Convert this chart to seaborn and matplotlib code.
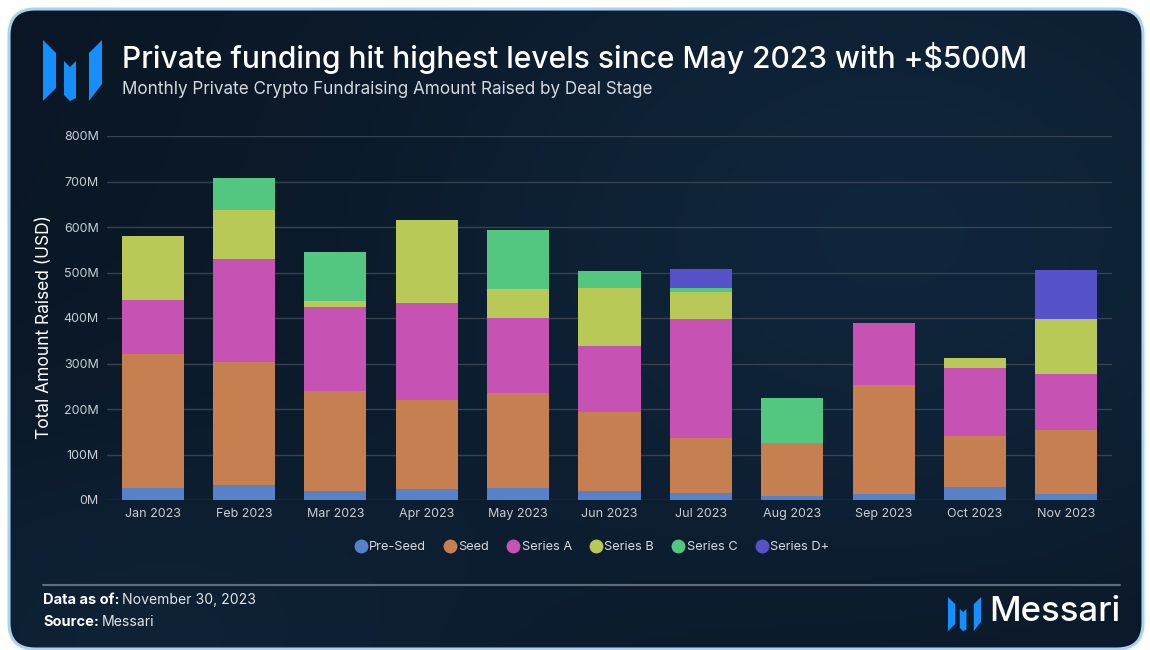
import numpy as np
import pandas as pd
import seaborn as sns
import matplotlib.pyplot as plt
from matplotlib.patches import FancyBboxPatch, Polygon
from matplotlib.lines import Line2D

months = ['Jan 2023', 'Feb 2023', 'Mar 2023', 'Apr 2023', 'May 2023', 'Jun 2023',
          'Jul 2023', 'Aug 2023', 'Sep 2023', 'Oct 2023', 'Nov 2023']
stages = ['Pre-Seed', 'Seed', 'Series A', 'Series B', 'Series C', 'Series D+']

# values in millions USD
pre_seed = [26, 34, 19, 24, 26, 19, 15, 8, 14, 28, 14]
seed = [294, 269, 221, 195, 209, 174, 122, 117, 238, 113, 139]
series_a = [119, 226, 184, 215, 164, 146, 260, 0, 136, 149, 124]
series_b = [142, 109, 13, 182, 65, 126, 61, 0, 0, 23, 121]
series_c = [0, 70, 109, 0, 129, 38, 9, 99, 0, 0, 0]
series_d = [0, 0, 0, 0, 0, 0, 41, 0, 0, 0, 108]

colors = ['#5782CA', '#C67F50', '#C653B3', '#B8C957', '#53C77F', '#5652C9']

df = pd.DataFrame({'month': months, 'Pre-Seed': pre_seed, 'Seed': seed,
                   'Series A': series_a, 'Series B': series_b,
                   'Series C': series_c, 'Series D+': series_d})

sns.set_theme(style='dark')
plt.rcParams['font.family'] = ['Inter', 'DejaVu Sans']

fig = plt.figure(figsize=(11.5, 6.5), dpi=100)
fig.patch.set_facecolor('white')

# background card with gradient
bg = fig.add_axes([0, 0, 1, 1])
bg.set_xlim(0, 1150)
bg.set_ylim(650, 0)
bg.axis('off')
gx, gy = np.meshgrid(np.linspace(0, 1, 300), np.linspace(0, 1, 170))
glow = np.exp(-(((gx - 0.78) / 0.45) ** 2 + ((gy - 0.35) / 0.6) ** 2))
glow2 = np.exp(-(((gx - 0.1) / 0.35) ** 2 + ((gy - 1.0) / 0.35) ** 2))
dark = np.array([10, 22, 36]) / 255
light = np.array([17, 40, 64]) / 255
mix = np.clip(0.85 * glow + 0.6 * glow2, 0, 1)[..., None]
img = dark * (1 - mix) + light * mix
card = FancyBboxPatch((9, 9), 1134, 640, boxstyle='round,pad=0,rounding_size=26',
                      facecolor='none', edgecolor='#A9D3F2', lw=2.2, zorder=3)
bg.add_patch(card)
im = bg.imshow(img, extent=[9, 1143, 649, 9], aspect='auto', zorder=1)
im.set_clip_path(card)

# Messari logo shapes
def logo(x0, y0, s):
    pieces = [
        [(0, 0), (13, 13), (13, 48), (0, 61)],
        [(21, 21), (27, 27), (33, 21), (33, 58), (27, 61), (21, 55)],
        [(59, 0), (59, 44), (46, 61), (46, 13)],
    ]
    for p in pieces:
        pts = [(x0 + px * s, y0 + py * s) for px, py in p]
        bg.add_patch(Polygon(pts, closed=True, facecolor='#168EFB', edgecolor='none', zorder=4))

logo(43, 40, 1.0)
logo(948, 597, 0.56)

bg.text(122, 58, 'Private funding hit highest levels since May 2023 with +$500M',
        color='white', fontsize=21.6, fontweight='medium', va='center', ha='left', zorder=5)
bg.text(122, 89, 'Monthly Private Crypto Fundraising Amount Raised by Deal Stage',
        color='#D5DAE0', fontsize=12.3, va='center', ha='left', zorder=5)

bg.plot([43, 1120], [585, 585], color='#5E6C7C', lw=1.5, zorder=4)

renderer = fig.canvas.get_renderer()
def footer(y, label, value):
    t = bg.text(43, y, label, color='white', fontsize=10.5, fontweight='bold',
                va='center', ha='left', zorder=5)
    x1 = t.get_window_extent(renderer).x1
    bg.text(x1 + 3, y, value, color='#E0E4E8', fontsize=10.1,
            va='center', ha='left', zorder=5)

footer(600, 'Data as of:', 'November 30, 2023')
footer(622, 'Source:', 'Messari')
bg.text(1121, 612, 'Messari', color='white', fontsize=25, fontweight='medium',
        va='center', ha='right', zorder=5)

# main chart
ax = fig.add_axes([107 / 1150, 1 - 500 / 650, (1112 - 107) / 1150, 364 / 650])
ax.set_facecolor('none')
bottom = np.zeros(len(months))
for stage, c in zip(stages, colors):
    vals = df[stage].to_numpy()
    sns.barplot(data=df, x='month', y=stage, order=months, color=c, bottom=bottom,
                width=0.68, errorbar=None, saturation=1, ax=ax, zorder=3, linewidth=0)
    bottom = bottom + vals

ax.set_ylim(0, 800)
ax.set_xlim(-0.5, 10.5)
ax.set_yticks(range(0, 801, 100))
ax.set_yticklabels([f'{v}M' for v in range(0, 801, 100)])
ax.yaxis.grid(True, color='#36424F', lw=1, zorder=0)
ax.xaxis.grid(False)
for s in ax.spines.values():
    s.set_visible(False)
ax.tick_params(axis='both', colors='#C9CED5', labelsize=9, length=0, pad=6)
ax.set_xlabel('')
ax.set_ylabel('Total Amount Raised (USD)', color='white', fontsize=12.5)
ax.yaxis.set_label_coords(-54 / 1005, 0.475)

handles = [Line2D([0], [0], marker='o', color='none', markerfacecolor=c,
                  markeredgecolor='none', markersize=10) for c in colors]
fig.legend(handles, stages, loc='center', bbox_to_anchor=(591 / 1150, 1 - 547 / 650),
           ncol=6, frameon=False, fontsize=9.2, labelcolor='#D5DAE0',
           handletextpad=0.05, columnspacing=1.3, handlelength=1.2)

fig.savefig('out.png', dpi=100, facecolor=fig.get_facecolor())
